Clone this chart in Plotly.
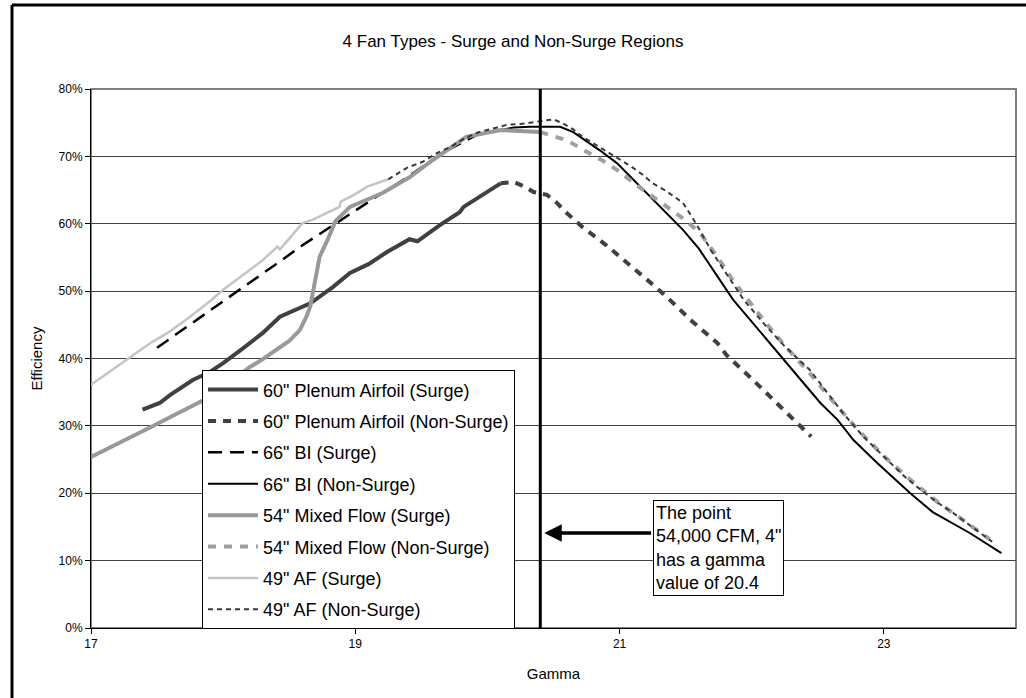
import plotly.graph_objects as go

# ---------------- data (x = Gamma, y = Efficiency in %) ----------------
plenum_surge_x = [17.39, 17.52, 17.60, 17.65, 17.77, 17.90, 18.00, 18.15, 18.30, 18.43, 18.55, 18.66,
                  18.83, 18.96, 19.10, 19.24, 19.41, 19.47, 19.64, 19.79, 19.82, 19.95, 20.10]
plenum_surge_y = [32.4, 33.4, 34.6, 35.3, 36.8, 38.0, 39.3, 41.5, 43.8, 46.2, 47.3, 48.2,
                  50.6, 52.7, 54.0, 55.8, 57.7, 57.4, 59.8, 61.7, 62.5, 64.2, 66.0]

plenum_ns_x = [20.10, 20.20, 20.28, 20.35, 20.45, 20.52, 20.60, 20.72, 20.90, 21.08, 21.25, 21.38,
               21.55, 21.74, 21.81, 22.00, 22.15, 22.27, 22.45]
plenum_ns_y = [66.0, 66.2, 65.5, 64.7, 64.3, 63.2, 61.6, 59.5, 56.8, 53.9, 51.0, 48.7,
               45.5, 42.3, 40.5, 37.0, 34.2, 31.9, 28.4]

bi_surge_x = [17.50, 17.80, 18.10, 18.40, 18.60, 18.85, 19.00, 19.16, 19.30, 19.44, 19.55, 19.66,
              19.80, 19.92, 20.10]
bi_surge_y = [41.6, 45.7, 49.9, 54.0, 56.8, 60.0, 62.0, 64.0, 65.7, 67.5, 69.0, 70.5,
              72.0, 73.2, 73.9]

bi_ns_x = [20.10, 20.20, 20.32, 20.55, 20.65, 20.72, 20.85, 20.98, 21.10, 21.23, 21.35, 21.48,
           21.60, 21.69, 21.78, 21.86, 21.99, 22.16, 22.24, 22.39, 22.52, 22.65, 22.77, 22.95,
           23.20, 23.37, 23.65, 23.89]
bi_ns_y = [73.9, 74.3, 74.4, 74.4, 73.6, 72.7, 70.9, 69.0, 66.6, 64.0, 61.6, 59.1,
           56.3, 53.6, 51.0, 48.7, 45.7, 41.7, 39.8, 36.4, 33.4, 30.9, 27.9, 24.5,
           20.0, 17.2, 14.1, 11.1]

mixed_surge_x = [17.00, 17.20, 17.45, 17.65, 17.85, 18.00, 18.20, 18.30, 18.41, 18.50, 18.58, 18.63,
                 18.66, 18.68, 18.70, 18.73, 18.79, 18.85, 18.96, 19.10, 19.21, 19.41, 19.59, 19.84,
                 20.10, 20.40]
mixed_surge_y = [25.4, 27.3, 29.8, 31.8, 33.8, 35.6, 38.7, 39.9, 41.3, 42.6, 44.2, 46.2,
                 47.8, 49.7, 52.0, 55.1, 57.6, 60.4, 62.5, 63.7, 64.6, 66.9, 69.5, 72.9,
                 73.9, 73.6]

mixed_ns_x = [20.40, 20.50, 20.60, 20.75, 20.87, 20.98, 21.08, 21.18, 21.36, 21.50, 21.61, 21.74,
              21.85, 21.97, 22.09, 22.25, 22.44, 22.60, 22.80, 23.00, 23.20, 23.40, 23.60, 23.80]
mixed_ns_y = [73.6, 73.0, 72.4, 70.7, 69.4, 68.0, 66.5, 65.0, 62.5, 60.5, 58.6, 55.1,
              51.8, 48.7, 45.7, 41.9, 37.8, 34.0, 29.5, 25.5, 22.0, 18.8, 16.0, 13.2]

af_surge_x = [17.00, 17.20, 17.45, 17.58, 17.75, 17.90, 18.00, 18.15, 18.30, 18.41, 18.43, 18.50,
              18.60, 18.68, 18.80, 18.88, 18.89, 19.00, 19.09, 19.25]
af_surge_y = [36.1, 38.8, 42.3, 43.8, 46.2, 48.5, 50.2, 52.4, 54.6, 56.6, 56.2, 57.8,
              60.1, 60.6, 61.7, 62.5, 63.3, 64.4, 65.5, 66.6]

af_ns_x = [19.25, 19.39, 19.51, 19.62, 19.72, 19.82, 19.92, 20.05, 20.15, 20.25, 20.35, 20.45,
           20.50, 20.57, 20.65, 20.72, 20.85, 20.98, 21.08, 21.18, 21.25, 21.35, 21.48, 21.58,
           21.69, 21.80, 21.94, 22.10, 22.25, 22.44, 22.55, 22.69, 22.85, 23.03, 23.15, 23.28,
           23.40, 23.53, 23.68, 23.82]
af_ns_y = [66.6, 68.3, 69.2, 70.5, 71.4, 72.6, 73.5, 74.2, 74.7, 74.8, 75.1, 75.3,
           75.5, 74.9, 74.0, 72.9, 71.4, 69.8, 68.6, 67.2, 66.0, 64.9, 63.1, 60.0,
           56.1, 52.8, 48.7, 45.0, 41.8, 38.3, 35.5, 31.9, 28.3, 24.9, 22.6, 20.5,
           18.7, 17.0, 14.8, 12.8]

series_names = ['60" Plenum Airfoil (Surge)', '60" Plenum Airfoil (Non-Surge)',
                '66" BI (Surge)', '66" BI (Non-Surge)',
                '54" Mixed Flow (Surge)', '54" Mixed Flow (Non-Surge)',
                '49" AF (Surge)', '49" AF (Non-Surge)']

x_ticks = [17, 19, 21, 23]
y_ticks = [0, 10, 20, 30, 40, 50, 60, 70, 80]
y_tick_labels = ["0%", "10%", "20%", "30%", "40%", "50%", "60%", "70%", "80%"]
GAMMA_POINT = 20.4
note_text = 'The point<br>54,000 CFM, 4"<br>has a gamma<br>value of 20.4'

# ---------------- styles ----------------
styles = [
    dict(color="#404040", width=4, dash="solid"),
    dict(color="#404040", width=4, dash="8px,7px"),
    dict(color="#000000", width=2.5, dash="14px,8px"),
    dict(color="#000000", width=2, dash="solid"),
    dict(color="#999999", width=4, dash="solid"),
    dict(color="#a0a0a0", width=4, dash="8px,8px"),
    dict(color="#c4c4c4", width=2.5, dash="solid"),
    dict(color="#3a3a3a", width=2, dash="5px,4px"),
]
xs = [plenum_surge_x, plenum_ns_x, bi_surge_x, bi_ns_x, mixed_surge_x, mixed_ns_x, af_surge_x, af_ns_x]
ys = [plenum_surge_y, plenum_ns_y, bi_surge_y, bi_ns_y, mixed_surge_y, mixed_ns_y, af_surge_y, af_ns_y]

FONT = "Liberation Sans, Arial, sans-serif"

fig = go.Figure()
for i, (name, x, y, st) in enumerate(zip(series_names, xs, ys, styles)):
    fig.add_trace(go.Scatter(x=x, y=y, mode="lines", name=name, line=st,
                             legendgroup=f"g{i}"))

fig.update_layout(
    width=1026, height=698,
    margin=dict(l=91, r=10, t=89, b=70, autoexpand=False),
    paper_bgcolor="white", plot_bgcolor="white",
    font=dict(family=FONT, color="black", size=12),
    title=dict(text="4 Fan Types - Surge and Non-Surge Regions", x=0.5, xanchor="center",
               y=1 - 41 / 698, yanchor="middle", font=dict(size=17, family=FONT, color="black")),
    showlegend=True,
    legend=dict(x=0.12, y=0.478, xanchor="left", yanchor="top",
                bgcolor="white", bordercolor="black", borderwidth=1,
                font=dict(size=18, family=FONT, color="black"),
                itemwidth=50, tracegroupgap=5),
)

fig.update_xaxes(range=[17, 24], tickvals=x_ticks, showgrid=False, zeroline=False,
                 showline=True, linecolor="black", linewidth=1, automargin=False,
                 ticks="outside", ticklen=5, tickcolor="black",
                 tickfont=dict(size=12),
                 title=dict(text="Gamma", font=dict(size=15), standoff=18))
fig.update_yaxes(range=[0, 80], tickvals=y_ticks, ticktext=y_tick_labels, showgrid=True,
                 gridcolor="#404040", gridwidth=1, zeroline=False,
                 showline=True, linecolor="black", linewidth=1, automargin=False,
                 ticks="outside", ticklen=5, tickcolor="black",
                 tickfont=dict(size=12),
                 title=dict(text="Efficiency", font=dict(size=15), standoff=12))

# plot area border (gray top/right)
fig.add_shape(type="rect", xref="paper", yref="paper", x0=0, y0=0, x1=1, y1=1,
              line=dict(color="#808080", width=2), layer="below")
# outer chart frame (top and left edges; right/bottom fall outside the picture)
FRAME_LEFT, FRAME_TOP = -0.0854, 1.1558
fig.add_shape(type="line", xref="paper", yref="paper", x0=FRAME_LEFT, x1=1.03,
              y0=FRAME_TOP, y1=FRAME_TOP, line=dict(color="black", width=3), layer="above")
fig.add_shape(type="line", xref="paper", yref="paper", x0=FRAME_LEFT, x1=FRAME_LEFT,
              y0=-0.2, y1=FRAME_TOP, line=dict(color="black", width=3), layer="above")
# vertical marker line at gamma 20.4
fig.add_shape(type="line", xref="x", yref="y", x0=GAMMA_POINT, x1=GAMMA_POINT, y0=0, y1=80,
              line=dict(color="black", width=3))

NOTE_X = 21.25
NOTE_TOP = 19.0
ARROW_Y = 14.1
fig.add_annotation(x=NOTE_X, y=NOTE_TOP, xref="x", yref="y", xanchor="left", yanchor="top",
                   text=note_text, showarrow=False, align="left",
                   font=dict(size=18, family=FONT, color="black"),
                   bgcolor="white", bordercolor="black", borderwidth=1, borderpad=2)
fig.add_annotation(x=GAMMA_POINT + 0.03, y=ARROW_Y, ax=NOTE_X, ay=ARROW_Y, xref="x", yref="y",
                   axref="x", ayref="y", text="", showarrow=True, arrowhead=2, arrowsize=1,
                   arrowwidth=3.5, arrowcolor="black", standoff=0, startstandoff=0)

fig.write_html("out.html", config={"displayModeBar": False},
               post_script="document.body.style.margin='0px';document.body.style.overflow='hidden';")
